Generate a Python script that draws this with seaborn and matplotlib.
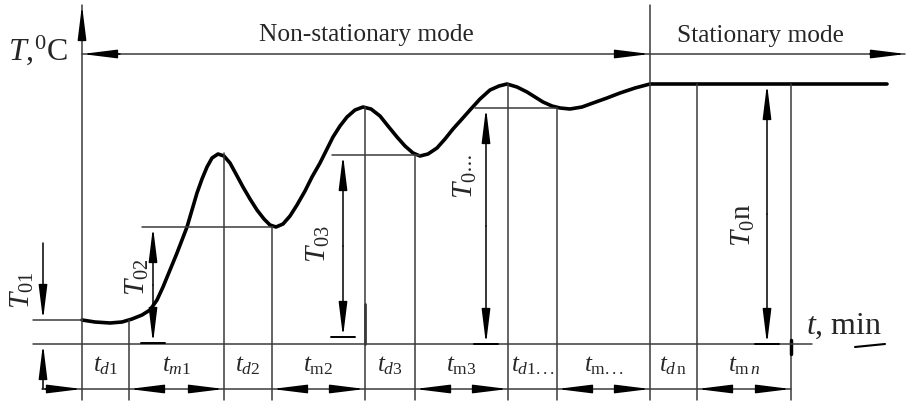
import matplotlib
matplotlib.use("Agg")
import matplotlib.pyplot as plt
import seaborn as sns
import pandas as pd

sns.set_style("white")
plt.rcParams['font.family'] = ['Liberation Serif', 'DejaVu Serif']
plt.rcParams['mathtext.fontset'] = 'custom'
plt.rcParams['mathtext.rm'] = 'Liberation Serif'
plt.rcParams['mathtext.it'] = 'Liberation Serif:italic'

# temperature curve (x = time, y = temperature, drawing units)
t_curve = [82, 95, 110, 122, 132, 142, 150, 157, 163, 170, 177, 182, 187, 192, 197, 202, 207,
           212, 218, 224, 230, 236, 243, 250, 257, 264, 270, 276, 283, 290, 297, 305, 312, 320,
           327, 333, 340, 347, 355, 363, 371, 380, 388, 397, 405, 413, 420, 428, 437, 445, 453,
           462, 470, 480, 490, 499, 507, 517, 527, 535, 543, 552, 560, 570, 582, 593, 607, 620,
           635, 650, 887]
T_curve = [320, 322, 323, 322, 319, 315, 310, 300, 287, 270, 253, 240, 227, 210, 193, 179, 167,
           158, 154, 156, 163, 174, 187, 199, 210, 219, 225, 227, 224, 216, 205, 191, 177, 163,
           149, 137, 126, 117, 110, 107, 109, 116, 126, 137, 146, 153, 156, 154, 148, 139, 129,
           119, 110, 99, 90, 86, 84, 87, 92, 97, 102, 106, 108, 109, 107, 103, 98, 93,
           88, 84, 84]

# interval boundaries and the curve level where each boundary line starts
t_bounds = [82, 129, 224, 272, 365, 415, 508, 557, 650, 697, 791]
T_bounds = [5, 320, 153, 227, 107, 155, 84, 108, 5, 84, 84]
interval_labels = [r"$t_{d\mathrm{1}}$", r"$t_{m\mathrm{1}}$", r"$t_{d\mathrm{2}}$", r"$t_{\mathrm{m2}}$",
                   r"$t_{d\mathrm{3}}$", r"$t_{\mathrm{m3}}$", r"$t_{d\mathrm{1...}}$", r"$t_{\mathrm{m...}}$",
                   r"$t_{d\,\mathrm{n}}$", r"$t_{\mathrm{m}\,n}$"]

# temperature rise dimensions
dim_x = [153, 343, 486, 767]
dim_top = [227, 155, 108, 84]
dim_bottom = [343, 337, 344, 344]
dim_line_start = [142, 332, 475, None]
dim_line_end = [273, 420, 557, None]
dim_labels = [r"$T_{02}$", r"$T_{03}$", r"$T_{0\cdots}$", r"$T_0$n"]
dim_label_x = [137, 318, 465, 743]
dim_label_y = [277, 244, 176, 225]

T_base = 344
T_start = 320
row_y = 389
mode_y = 54
gray = "#3a3a3a"

fig = plt.figure(figsize=(9.07, 4.01), dpi=100)
ax = fig.add_axes([0, 0, 1, 1])


def arrow(x0, y0, x1, y1, style="-|>"):
    ax.annotate("", xy=(x1, y1), xytext=(x0, y0),
                arrowprops=dict(arrowstyle=style + ",head_length=2.1,head_width=0.26",
                                color="black", lw=1.1, shrinkA=0, shrinkB=0,
                                mutation_scale=10))


# curve
df = pd.DataFrame({"t": t_curve, "T": T_curve})
sns.lineplot(data=df, x="t", y="T", sort=False, color="black", linewidth=2.6, ax=ax,
             solid_joinstyle="round", solid_capstyle="round")
ax.set_xlim(0, 907)
ax.set_ylim(401, 0)
ax.axis("off")

# boundary lines
for x, top in zip(t_bounds, T_bounds):
    ax.plot([x, x], [top, 400], color=gray, lw=1.1)
arrow(82, 40, 82, 5)
ax.plot([365, 365], [304, T_base], color=gray, lw=2.0)
ax.plot([791, 791], [340, 354], color="black", lw=2.5)

# base lines
ax.plot([33, 812], [T_base, T_base], color=gray, lw=1.1)
ax.plot([33, 82], [T_start, T_start], color=gray, lw=1.1)

# mode row
ax.plot([82, 905], [mode_y, mode_y], color=gray, lw=1.1)
arrow(120, mode_y, 82, mode_y)
arrow(615, mode_y, 650, mode_y)
arrow(870, mode_y, 906, mode_y)
ax.text(366, 35, "Non-stationary mode", fontsize=18.3, ha="center", va="center")
ax.text(760, 36, "Stationary mode", fontsize=18.3, ha="center", va="center")

# interval row
ax.plot([42, 791], [row_y, row_y], color=gray, lw=1.1)
arrow(45, row_y, 82, row_y)
for i in range(len(interval_labels)):
    a, b = t_bounds[i], t_bounds[i + 1]
    ax.text((a + b) / 2, 366, interval_labels[i], fontsize=18, ha="center", va="center")
    if i % 2 == 1:
        arrow((a + b) / 2 - 20, row_y, a, row_y)
        arrow((a + b) / 2 + 20, row_y, b, row_y)

# T01
arrow(43, 243, 43, T_start)
arrow(43, row_y, 43, T_base)
ax.text(22, 290, r"$T_{01}$", fontsize=21, rotation=90, ha="center", va="center")

# other T0 dimensions
for i in range(len(dim_x)):
    x = dim_x[i]
    mid = (dim_top[i] + dim_bottom[i]) / 2
    arrow(x, mid, x, dim_top[i])
    arrow(x, mid, x, dim_bottom[i])
    ax.plot([x - 12, x + 12], [dim_bottom[i], dim_bottom[i]], color="black", lw=1.4)
    if dim_line_start[i] is not None:
        ax.plot([dim_line_start[i], dim_line_end[i]], [dim_top[i], dim_top[i]], color=gray, lw=1.1)
    ax.text(dim_label_x[i], dim_label_y[i], dim_labels[i], fontsize=21, rotation=90,
            ha="center", va="center")

# axis labels
ax.text(8, 50, r"$T$,$^{0}$C", fontsize=23, ha="left", va="center")
ax.text(806, 326, r"$t$, min", fontsize=23, ha="left", va="center")
ax.plot([855, 885], [347, 344], color="black", lw=1.5)

plt.savefig("out.png", dpi=100)
